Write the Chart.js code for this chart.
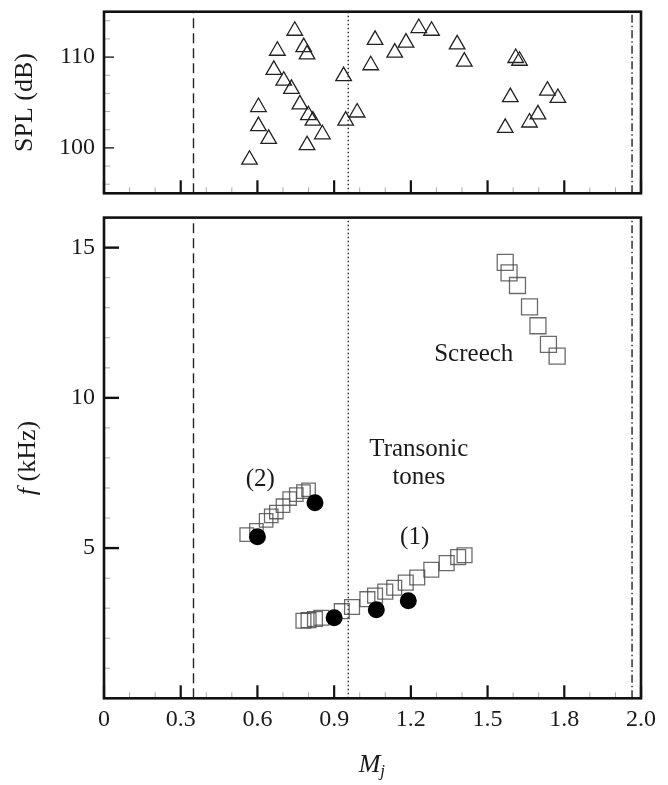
<!DOCTYPE html>
<html>
<head>
<meta charset="utf-8">
<script src="https://cdn.jsdelivr.net/npm/chart.js@4.4.1/dist/chart.umd.min.js"></script>
<style>
  body { margin: 0; background: #fff; }
  #wrap { position: relative; width: 668px; height: 785px; }
  #splChart { position: absolute; left: 0; top: 0; }
  #freqChart { position: absolute; left: 0; top: 205px; }
</style>
</head>
<body>
<div id="wrap">
  <canvas id="splChart" width="668" height="205"></canvas>
  <canvas id="freqChart" width="668" height="580"></canvas>
</div>
<script>
// --- data ---
const splMach = [0.569, 0.604, 0.604, 0.644, 0.664, 0.678, 0.703, 0.733, 0.746, 0.766, 0.781, 0.794,
  0.799, 0.817, 0.794, 0.854, 0.937, 0.945, 0.990, 1.043, 1.060, 1.137, 1.181, 1.231, 1.281,
  1.381, 1.409, 1.569, 1.589, 1.610, 1.625, 1.664, 1.697, 1.734, 1.775];
const splLevel = [98.7, 104.5, 102.4, 101.0, 108.6, 110.7, 107.4, 106.5, 112.9, 104.8, 111.1, 110.3,
  103.6, 103.0, 100.3, 101.5, 107.9, 103.0, 103.9, 109.1, 111.9, 110.5, 111.6, 113.2, 112.9,
  111.4, 109.5, 102.2, 105.6, 109.9, 109.6, 102.8, 103.7, 106.3, 105.5];

const screechMach = [1.569, 1.584, 1.617, 1.664, 1.697, 1.738, 1.772];
const screechFreq = [14.51, 14.16, 13.74, 13.03, 12.40, 11.78, 11.39];

const mode2Mach = [0.558, 0.596, 0.634, 0.654, 0.674, 0.700, 0.726, 0.752, 0.780, 0.800];
const mode2Freq = [5.45, 5.59, 5.92, 6.07, 6.20, 6.41, 6.65, 6.78, 6.88, 6.94];

const mode1Mach = [0.78, 0.80, 0.825, 0.85, 0.93, 0.97, 1.03, 1.06, 1.10, 1.135, 1.18, 1.225, 1.28, 1.34, 1.385, 1.41];
const mode1Freq = [2.58, 2.60, 2.64, 2.68, 2.90, 3.04, 3.30, 3.42, 3.55, 3.68, 3.85, 4.02, 4.28, 4.50, 4.70, 4.76];

const circleMach = [0.60, 0.825, 0.90, 1.065, 1.19];
const circleFreq = [5.38, 6.51, 2.68, 2.95, 3.25];

// vertical reference lines (dashed, dotted, dash-dot)
const refLineMach = [0.35, 0.955, 2.065];

// ticks
const machTicks = [0, 0.1, 0.2, 0.3, 0.4, 0.5, 0.6, 0.7, 0.8, 0.9, 1.0, 1.1, 1.2, 1.3, 1.4, 1.5, 1.6, 1.7, 1.8, 1.9, 2.0, 2.1];
const machLabelVals = [0, 0.3, 0.6, 0.9, 1.2, 1.5, 1.8, 2.1];
const machLabelText = ['0', '0.3', '0.6', '0.9', '1.2', '1.5', '1.8', '2.0'];
const splTicks = [96, 98, 100, 102, 104, 106, 108, 110, 112, 114];
const splLabelVals = [100, 110];
const freqTicks = [1, 2, 3, 4, 5, 6, 7, 8, 9, 10, 11, 12, 13, 14, 15];
const freqLabelVals = [5, 10, 15];

// --- helpers ---
const SERIF = '"Liberation Serif", "DejaVu Serif", serif';
const near = (list, v) => list.findIndex(m => Math.abs(m - v) < 1e-6);
const pts = (xs, ys) => xs.map((x, i) => ({ x: x, y: ys[i] }));

const lineStyles = [
  { dash: [10, 5], width: 1.4 },
  { dash: [1.5, 2.5], width: 1.4 },
  { dash: [8, 3, 1.5, 3], width: 1.4 }
];
function refLines(yMin, yMax) {
  return refLineMach.map((m, i) => ({
    data: [{ x: m, y: yMin }, { x: m, y: yMax }],
    showLine: true,
    pointRadius: 0,
    borderColor: '#222',
    borderWidth: lineStyles[i].width,
    borderDash: lineStyles[i].dash
  }));
}

// border + inward tick marks
const axesFrame = {
  id: 'axesFrame',
  afterDatasetsDraw(chart, args, o) {
    const { ctx, chartArea: a, scales: { x, y } } = chart;
    ctx.save();
    x.ticks.forEach(t => {
      const px = x.getPixelForValue(t.value);
      const big = near(o.xMajor, t.value) >= 0;
      ctx.strokeStyle = big ? '#111' : '#aaa';
      ctx.lineWidth = big ? 2.2 : 1;
      ctx.beginPath();
      ctx.moveTo(px, a.bottom);
      ctx.lineTo(px, a.bottom - (big ? 13 : 6));
      ctx.stroke();
    });
    y.ticks.forEach(t => {
      const py = y.getPixelForValue(t.value);
      const big = near(o.yMajor, t.value) >= 0;
      ctx.strokeStyle = big ? '#111' : '#aaa';
      ctx.lineWidth = big ? o.yMajorWidth : 1;
      ctx.beginPath();
      ctx.moveTo(a.left, py);
      ctx.lineTo(a.left + (big ? o.yMajorLen : 6), py);
      ctx.stroke();
    });
    ctx.strokeStyle = '#111';
    ctx.lineWidth = 2.6;
    ctx.strokeRect(a.left, a.top, a.width, a.height);
    ctx.restore();
  }
};

// text annotations and the italic axis titles of the lower panel
const notes = {
  id: 'notes',
  afterDatasetsDraw(chart) {
    const { ctx, scales: { x, y }, chartArea: a } = chart;
    ctx.save();
    ctx.fillStyle = '#1a1a1a';
    ctx.textAlign = 'center';
    ctx.textBaseline = 'middle';
    ctx.font = '25px ' + SERIF;
    [['Screech', 1.446, 11.46], ['Transonic', 1.231, 8.28], ['tones', 1.231, 7.35],
     ['(2)', 0.611, 7.29], ['(1)', 1.215, 5.37]].forEach(n => {
      ctx.fillText(n[0], x.getPixelForValue(n[1]), y.getPixelForValue(n[2]));
    });

    // y title: f (kHz)
    ctx.save();
    ctx.translate(28, (a.top + a.bottom) / 2);
    ctx.rotate(-Math.PI / 2);
    ctx.textAlign = 'left';
    ctx.font = 'italic 26px ' + SERIF;
    const wf = ctx.measureText('f').width;
    ctx.font = '26px ' + SERIF;
    const wr = ctx.measureText(' (kHz)').width;
    const x0 = -(wf + wr) / 2;
    ctx.font = 'italic 26px ' + SERIF;
    ctx.fillText('f', x0, 0);
    ctx.font = '26px ' + SERIF;
    ctx.fillText(' (kHz)', x0 + wf, 0);
    ctx.restore();

    // x title: M_j
    const cx = (a.left + a.right) / 2;
    ctx.textAlign = 'left';
    ctx.font = 'italic 26px ' + SERIF;
    const wm = ctx.measureText('M').width;
    ctx.fillText('M', cx - wm / 2 - 3, 560);
    ctx.font = 'italic 17px ' + SERIF;
    ctx.fillText('j', cx + wm / 2 - 3, 567);
    ctx.restore();
  }
};

function xScale(showLabels, height) {
  return {
    type: 'linear',
    min: 0,
    max: 2.1,
    grid: { display: false, drawTicks: false },
    border: { display: false },
    afterBuildTicks: s => { s.ticks = machTicks.map(v => ({ value: v })); },
    ticks: {
      display: showLabels,
      autoSkip: false,
      maxRotation: 0,
      padding: 7,
      color: '#1a1a1a',
      font: { family: SERIF, size: 24 },
      callback: (v, i, ticks) => {
        const k = near(machLabelVals, ticks[i].value);
        return k < 0 ? '' : machLabelText[k];
      }
    },
    afterFit: s => { s.height = height; s.paddingLeft = 0; s.paddingRight = 0; }
  };
}

function yScale(min, max, tickVals, labelVals, title) {
  return {
    type: 'linear',
    min: min,
    max: max,
    grid: { display: false, drawTicks: false },
    border: { display: false },
    afterBuildTicks: s => { s.ticks = tickVals.map(v => ({ value: v })); },
    ticks: {
      autoSkip: false,
      padding: 9,
      color: '#1a1a1a',
      font: { family: SERIF, size: 24 },
      callback: (v, i, ticks) => near(labelVals, ticks[i].value) >= 0 ? String(ticks[i].value) : ''
    },
    title: title,
    afterFit: s => { s.width = 104; s.paddingTop = 0; s.paddingBottom = 0; }
  };
}

Chart.defaults.animation = false;

// --- upper panel: SPL ---
new Chart(document.getElementById('splChart'), {
  type: 'scatter',
  data: {
    datasets: [{
      data: pts(splMach, splLevel),
      pointStyle: 'triangle',
      pointRadius: 9,
      borderColor: '#222',
      borderWidth: 1.3,
      backgroundColor: 'rgba(0,0,0,0)'
    }].concat(refLines(95, 115))
  },
  options: {
    responsive: false,
    layout: { padding: { left: 0, right: 27, top: 11.7, bottom: 0 } },
    plugins: {
      legend: { display: false },
      tooltip: { enabled: false },
      axesFrame: { xMajor: machLabelVals, yMajor: splLabelVals, yMajorLen: 10, yMajorWidth: 1.3 }
    },
    scales: {
      x: xScale(false, 11.7),
      y: yScale(95, 115, splTicks, splLabelVals, {
        display: true,
        text: 'SPL (dB)',
        color: '#1a1a1a',
        font: { family: SERIF, size: 26 },
        padding: { top: 10, bottom: 0 }
      })
    }
  },
  plugins: [axesFrame]
});

// --- lower panel: frequency ---
const squareStyle = {
  pointStyle: 'rect',
  borderColor: 'rgba(70,70,70,0.8)',
  borderWidth: 1.3,
  backgroundColor: 'rgba(0,0,0,0)'
};

new Chart(document.getElementById('freqChart'), {
  type: 'scatter',
  data: {
    datasets: [
      { data: pts(circleMach, circleFreq), pointStyle: 'circle', pointRadius: 8.5, borderWidth: 0, backgroundColor: '#000' },
      Object.assign({ data: pts(screechMach, screechFreq), pointRadius: 11.3 }, squareStyle),
      Object.assign({ data: pts(mode2Mach, mode2Freq), pointRadius: 9.5 }, squareStyle),
      Object.assign({ data: pts(mode1Mach, mode1Freq), pointRadius: 10.5 }, squareStyle)
    ].concat(refLines(0, 16))
  },
  options: {
    responsive: false,
    layout: { padding: { left: 0, right: 27, top: 6.7, bottom: 0 } },
    plugins: {
      legend: { display: false },
      tooltip: { enabled: false },
      axesFrame: { xMajor: machLabelVals, yMajor: freqLabelVals, yMajorLen: 15, yMajorWidth: 2.4 }
    },
    scales: {
      x: xScale(true, 86.7),
      y: yScale(0, 16, freqTicks, freqLabelVals, { display: false })
    }
  },
  plugins: [axesFrame, notes]
});
</script>
</body>
</html>
